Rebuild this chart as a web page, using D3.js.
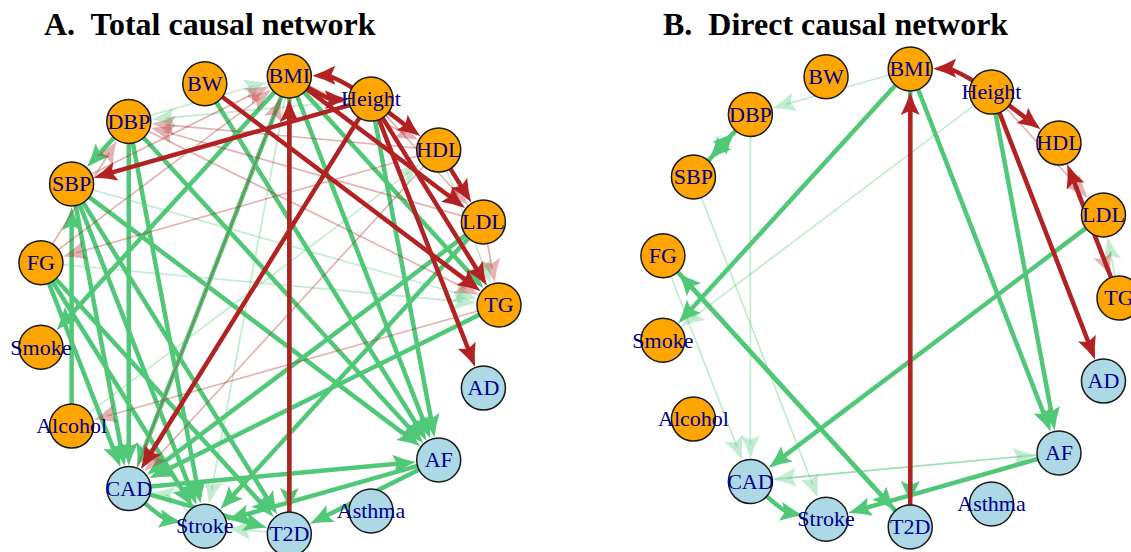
<!DOCTYPE html>
<html>
<head>
<meta charset="utf-8">
<script src="https://cdn.jsdelivr.net/npm/d3@7"></script>
<style>
  body { margin: 0; background: #fff; }
  svg { display: block; }
</style>
</head>
<body>
<svg id="chart" width="1131" height="552"></svg>
<script>
// Traits placed counter-clockwise around the circle, starting at 3 o'clock.
const nodeNames = ["TG", "LDL", "HDL", "Height", "BMI", "BW", "DBP", "SBP", "FG",
                   "Smoke", "Alcohol", "CAD", "Stroke", "T2D", "Asthma", "AF", "AD"];
const outcomeNames = ["CAD", "Stroke", "T2D", "Asthma", "AF", "AD"];

const panelTitles = ["A.  Total causal network", "B.  Direct causal network"];

// Edges: [exposure, outcome, sign of effect, strength, curvature]
const totalEdges = [
  // positive, strong
  ["BMI", "AF", "pos", "strong"], ["BW", "AF", "pos", "strong"], ["DBP", "AF", "pos", "strong"],
  ["Height", "AF", "pos", "strong"], ["SBP", "AF", "pos", "strong"],
  ["BMI", "T2D", "pos", "strong"], ["BMI", "CAD", "pos", "strong"], ["BMI", "Smoke", "pos", "strong"],
  ["BMI", "TG", "pos", "strong"],
  ["DBP", "CAD", "pos", "strong"], ["DBP", "Stroke", "pos", "strong"], ["DBP", "SBP", "pos", "strong"],
  ["SBP", "CAD", "pos", "strong"], ["SBP", "Stroke", "pos", "strong"], ["SBP", "T2D", "pos", "strong"],
  ["FG", "CAD", "pos", "strong"], ["FG", "Stroke", "pos", "strong"], ["FG", "T2D", "pos", "strong"],
  ["Alcohol", "SBP", "pos", "strong"],
  ["LDL", "CAD", "pos", "strong"], ["LDL", "Stroke", "pos", "strong"], ["TG", "CAD", "pos", "strong"],
  ["CAD", "AF", "pos", "strong"], ["CAD", "Stroke", "pos", "strong", 0.15], ["CAD", "T2D", "pos", "strong"],
  ["AF", "Stroke", "pos", "strong"], ["AF", "T2D", "pos", "strong"],
  // positive, weak
  ["DBP", "BMI", "pos", "weak"], ["Height", "DBP", "pos", "weak"], ["SBP", "TG", "pos", "weak"],
  ["FG", "TG", "pos", "weak"], ["Alcohol", "HDL", "pos", "weak"], ["BMI", "Stroke", "pos", "weak"],
  ["Stroke", "CAD", "pos", "weak", 0.15], ["T2D", "Stroke", "pos", "weak"], ["HDL", "TG", "pos", "weak"],
  // negative, weak
  ["HDL", "FG", "neg", "weak"], ["TG", "Alcohol", "neg", "weak"], ["HDL", "CAD", "neg", "weak"],
  ["LDL", "DBP", "neg", "weak"], ["HDL", "DBP", "neg", "weak"], ["SBP", "BMI", "neg", "weak"],
  ["FG", "BMI", "neg", "weak"], ["CAD", "BMI", "neg", "weak"], ["LDL", "TG", "neg", "weak"],
  ["BMI", "HDL", "neg", "weak"], ["Height", "LDL", "neg", "weak"], ["FG", "DBP", "neg", "weak"],
  ["DBP", "TG", "neg", "weak"],
  // negative, strong
  ["Height", "SBP", "neg", "strong"], ["Height", "CAD", "neg", "strong"], ["Height", "AD", "neg", "strong"],
  ["Height", "HDL", "neg", "strong"], ["HDL", "LDL", "neg", "strong"], ["BW", "TG", "neg", "strong"],
  ["T2D", "BMI", "neg", "strong"], ["BMI", "LDL", "neg", "strong"], ["Height", "TG", "neg", "strong"],
  ["BMI", "Height", "neg", "strong", 0.15], ["Height", "BMI", "neg", "strong", 0.15]
];

const directEdges = [
  // positive, strong
  ["BMI", "Smoke", "pos", "strong"], ["DBP", "SBP", "pos", "strong"], ["SBP", "DBP", "pos", "strong"],
  ["T2D", "FG", "pos", "strong"], ["FG", "T2D", "pos", "strong"], ["LDL", "CAD", "pos", "strong"],
  ["BMI", "AF", "pos", "strong"], ["Height", "AF", "pos", "strong"], ["BMI", "T2D", "pos", "strong"],
  ["CAD", "Stroke", "pos", "strong", 0.15], ["AF", "Stroke", "pos", "strong"],
  // positive, weak
  ["BMI", "DBP", "pos", "weak"], ["Height", "Smoke", "pos", "weak"], ["FG", "CAD", "pos", "weak"],
  ["DBP", "CAD", "pos", "weak"], ["SBP", "Stroke", "pos", "weak"], ["AF", "CAD", "pos", "weak"],
  ["CAD", "AF", "pos", "weak"], ["TG", "LDL", "pos", "weak"],
  // negative, weak
  ["Height", "LDL", "neg", "weak"], ["HDL", "TG", "neg", "weak"],
  // negative, strong
  ["Height", "BMI", "neg", "strong", 0.15], ["Height", "HDL", "neg", "strong"], ["TG", "HDL", "neg", "strong"],
  ["Height", "AD", "neg", "strong"], ["T2D", "BMI", "neg", "strong"]
];

const signColor = { pos: "#50C878", neg: "#B22222" };
const nodeR = 22;
const svg = d3.select("#chart");

// Draw order: strong positive, weak, then strong negative on top.
function layerOf(e) {
  if (e[3] === "strong" && e[2] === "pos") return 0;
  if (e[3] === "weak" && e[2] === "pos") return 1;
  if (e[3] === "weak") return 2;
  return 3;
}

function drawPanel(edges, cx, cy, rx, ry, title, titleX) {
  const g = svg.append("g");
  const angle = d3.scaleLinear().domain([0, nodeNames.length]).range([0, 2 * Math.PI]);
  const x = d3.scaleLinear().domain([-1, 1]).range([cx - rx, cx + rx]);
  const y = d3.scaleLinear().domain([-1, 1]).range([cy + ry, cy - ry]);
  const pos = new Map(nodeNames.map((n, i) => [n, { x: x(Math.cos(angle(i))), y: y(Math.sin(angle(i))) }]));

  const sorted = edges.slice().sort((a, b) => layerOf(a) - layerOf(b));
  const eg = g.append("g");

  sorted.forEach(e => {
    const s = pos.get(e[0]), t = pos.get(e[1]);
    const curv = e[4] || 0;
    const strong = e[3] === "strong";
    const col = signColor[e[2]];
    const dx = t.x - s.x, dy = t.y - s.y;
    const len = Math.hypot(dx, dy);
    const ux = dx / len, uy = dy / len;
    const nx = -uy, ny = ux;
    const cpx = (s.x + t.x) / 2 + nx * curv * len;
    const cpy = (s.y + t.y) / 2 + ny * curv * len;
    // direction of travel at the target end
    let ex = t.x - cpx, ey = t.y - cpy;
    const el = Math.hypot(ex, ey); ex /= el; ey /= el;
    const L = 23, W = 19;
    const tipX = t.x - ex * (nodeR + 1), tipY = t.y - ey * (nodeR + 1);
    const endX = tipX - ex * L * 0.6, endY = tipY - ey * L * 0.6;
    const p = d3.path();
    p.moveTo(s.x, s.y);
    if (curv) p.quadraticCurveTo(cpx, cpy, endX, endY);
    else p.lineTo(endX, endY);
    const op = strong ? 1 : 0.35;
    eg.append("path")
      .attr("d", p.toString())
      .attr("fill", "none")
      .attr("stroke", col)
      .attr("stroke-width", strong ? 4.5 : 1.7)
      .attr("stroke-opacity", op);
    // arrowhead with slightly concave flanks and a shallow notch
    const px = -ey, py = ex;
    const bx = tipX - ex * L, by = tipY - ey * L;
    const mx = tipX - ex * L * 0.82, my = tipY - ey * L * 0.82;
    const a = d3.path();
    a.moveTo(tipX, tipY);
    a.quadraticCurveTo(tipX - ex * L * 0.5 + px * W * 0.18, tipY - ey * L * 0.5 + py * W * 0.18,
                       bx + px * W / 2, by + py * W / 2);
    a.lineTo(mx, my);
    a.lineTo(bx - px * W / 2, by - py * W / 2);
    a.quadraticCurveTo(tipX - ex * L * 0.5 - px * W * 0.18, tipY - ey * L * 0.5 - py * W * 0.18,
                       tipX, tipY);
    a.closePath();
    eg.append("path")
      .attr("d", a.toString())
      .attr("fill", col)
      .attr("fill-opacity", op);
  });

  const ng = g.append("g").selectAll("g").data(nodeNames).join("g")
    .attr("transform", d => `translate(${pos.get(d).x},${pos.get(d).y})`);
  ng.append("circle")
    .attr("r", nodeR)
    .attr("fill", d => outcomeNames.includes(d) ? "#ADD8E6" : "#FFA500")
    .attr("stroke", "#1a1a1a")
    .attr("stroke-width", 1.5);
  ng.append("text")
    .text(d => d)
    .attr("text-anchor", "middle")
    .attr("dy", "0.33em")
    .attr("font-family", "'Liberation Serif', 'Times New Roman', serif")
    .attr("font-size", 22)
    .attr("fill", "#00008B");

  svg.append("text")
    .attr("x", titleX).attr("y", 35)
    .attr("font-family", "'Liberation Serif', 'Times New Roman', serif")
    .attr("font-weight", "bold")
    .attr("font-size", 32)
    .attr("fill", "#000")
    .style("white-space", "pre")
    .text(title);
}

drawPanel(totalEdges, 268, 305, 231, 230, panelTitles[0], 44);
drawPanel(directEdges, 889, 298, 230, 230, panelTitles[1], 663);
</script>
</body>
</html>
